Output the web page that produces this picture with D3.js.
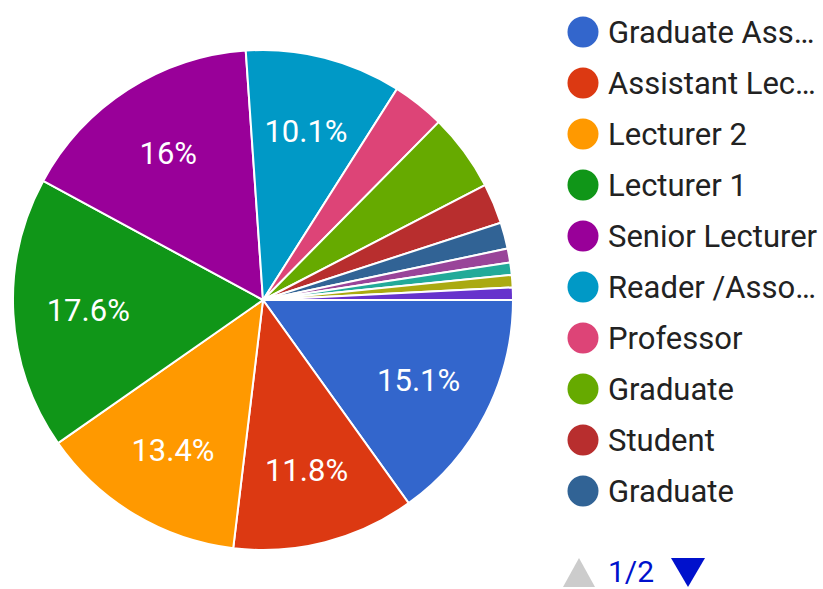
<!DOCTYPE html>
<html>
<head>
<meta charset="utf-8">
<script src="https://cdn.jsdelivr.net/npm/d3@7"></script>
<style>
  body { margin: 0; background: #fff; }
  svg { font-family: Roboto, "Noto Sans", sans-serif; }
</style>
</head>
<body>
<svg width="823" height="589"></svg>
<script>
// slice names, in the order they go round the pie (page 1 of the legend shows the first ten)
const categories = ['Graduate Ass…', 'Assistant Lec…', 'Lecturer 2', 'Lecturer 1', 'Senior Lecturer',
  'Reader /Asso…', 'Professor', 'Graduate', 'Student', 'Graduate',
  'Other 1', 'Other 2', 'Other 3', 'Other 4'];
// share of answers, percent
const values = [15.1, 11.8, 13.4, 17.6, 16.0, 10.1, 3.4, 5.0, 2.6, 1.7, 0.9, 0.8, 0.8, 0.8];
const colors = ['#3366cc', '#dc3912', '#ff9900', '#109618', '#990099', '#0099c6', '#dd4477',
  '#66aa00', '#b82e2e', '#316395', '#994499', '#22aa99', '#aaaa11', '#6633cc'];
const pageLabel = '1/2';

const sample = categories.map((c, i) => ({ name: c, value: values[i], color: colors[i] }));
const total = d3.sum(values);

const svg = d3.select('svg');

// pie, starting at 3 o'clock and going clockwise
const cx = 263, cy = 300, radius = 250;
const pie = d3.pie().sort(null).value(d => d.value)
  .startAngle(Math.PI / 2).endAngle(Math.PI / 2 + 2 * Math.PI);
const arc = d3.arc().innerRadius(0).outerRadius(radius);
const labelArc = d3.arc().innerRadius(radius * 0.7).outerRadius(radius * 0.7);

const chart = svg.append('g').attr('transform', `translate(${cx}, ${cy})`);
const slices = pie(sample);

chart.selectAll('path').data(slices).enter().append('path')
  .attr('d', arc)
  .attr('fill', d => d.data.color)
  .attr('stroke', '#fff')
  .attr('stroke-width', 2);

const fmt = v => d3.format('.1f')(v).replace(/\.0$/, '') + '%';
chart.selectAll('text.pct').data(slices.filter(d => d.data.value / total > 0.08)).enter().append('text')
  .attr('class', 'pct')
  .attr('transform', d => `translate(${labelArc.centroid(d)})`)
  .attr('text-anchor', 'middle')
  .attr('dy', '0.36em')
  .attr('fill', '#fff')
  .style('font-size', '31px')
  .text(d => fmt(100 * d.data.value / total));

// legend, first page
const legend = svg.append('g').attr('transform', 'translate(583, 32)');
const rows = legend.selectAll('g').data(sample.slice(0, 10)).enter().append('g')
  .attr('transform', (d, i) => `translate(0, ${i * 51})`);
rows.append('circle').attr('r', 15.5).attr('fill', d => d.color);
rows.append('text')
  .attr('x', 25)
  .attr('dy', '0.36em')
  .attr('fill', '#222')
  .style('font-size', '31px')
  .text(d => d.name);

// pager
const pager = svg.append('g').attr('transform', 'translate(0, 572)');
pager.append('path').attr('d', 'M563,15 L595,15 L579,-14 Z').attr('fill', '#cccccc');
pager.append('text').attr('x', 608).attr('y', 10).attr('fill', '#0011cc')
  .style('font-size', '30px').text(pageLabel);
pager.append('path').attr('d', 'M671,-14 L705,-14 L688,15 Z').attr('fill', '#0011cc');
</script>
</body>
</html>
